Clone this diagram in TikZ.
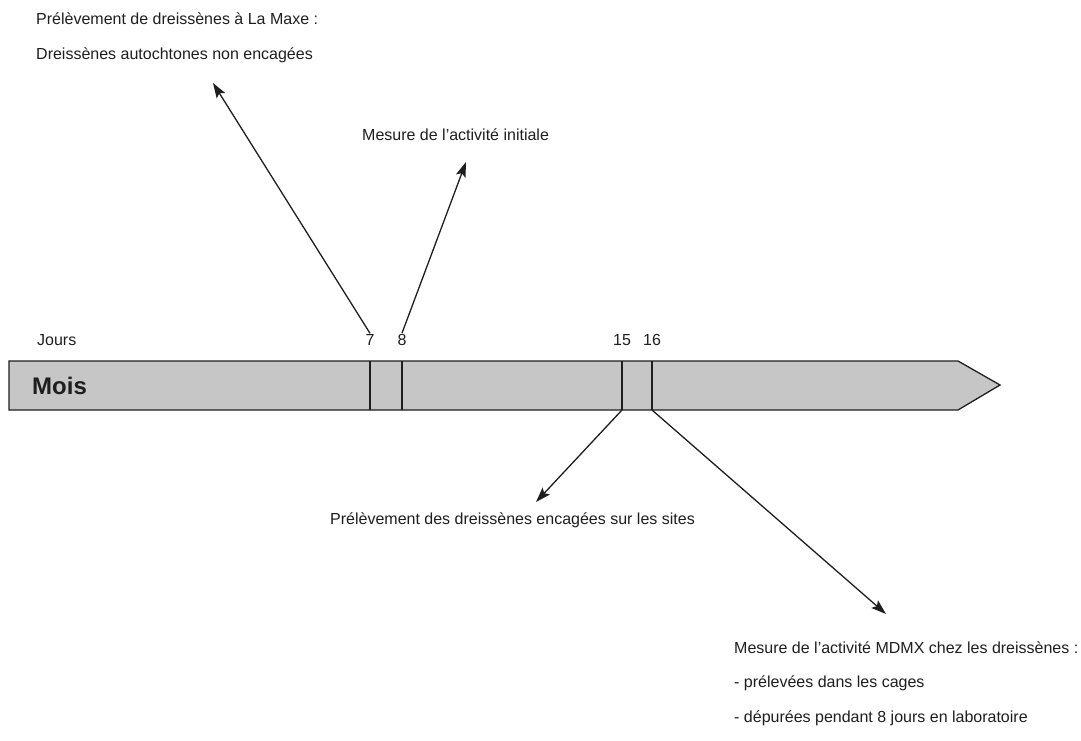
\documentclass[tikz,border=0pt]{standalone}
\usepackage{fontspec}
\setmainfont{Liberation Sans}
\usetikzlibrary{arrows.meta}
\definecolor{barcolor}{HTML}{C6C6C6}
\definecolor{inkcolor}{HTML}{1E1E1E}
\tikzset{
  tl bar/.style={fill=barcolor,draw=inkcolor,line width=1.3pt},
  tl tick/.style={inkcolor,line width=1.2pt},
  tl arrow/.style={inkcolor,line width=1.3pt,-{Stealth[length=15pt,width=10pt,inset=3pt]}},
  tl text/.style={anchor=west,inner sep=0pt,text=inkcolor,font=\fontsize{16}{18}\selectfont},
  tl day/.style={inner sep=1pt,text=inkcolor,font=\fontsize{16}{18}\selectfont}
}

\begin{document}
\begin{tikzpicture}[x=1pt,y=-1pt]
  \useasboundingbox (0,0) rectangle (1081,741);
  % the month bar
  \draw[tl bar] (9,361)--(958,361)--(1000,385)--(958,410)--(9,410)--cycle;
  \node[anchor=west,inner sep=0pt,text=inkcolor,font=\fontsize{24}{26}\selectfont\bfseries] (mois) at (32,386) {Mois};
  \foreach \x/\d in {370/7,402/8,622/15,652/16}{
    \draw[tl tick] (\x,361) coordinate (top\d) -- (\x,410) coordinate (bot\d);
    \node[tl day] (day\d) at (\x,340) {\d};
  }
  \node[tl text] (jours) at (37,340) {Jours};
  % texts
  \node[tl text] (maxeA) at (36,19) {Prélèvement de dreissènes à La Maxe :};
  \node[tl text] (maxeB) at (36,55) {Dreissènes autochtones non encagées};
  \node[tl text] (initiale) at (362,135) {Mesure de l'activité initiale};
  \node[tl text] (sites) at (330,520) {Prélèvement des dreissènes encagées sur les sites};
  \node[tl text] (mdmxA) at (734,648) {Mesure de l'activité MDMX chez les dreissènes :};
  \node[tl text] (mdmxB) at (734,683) {- prélevées dans les cages};
  \node[tl text] (mdmxC) at (734,718) {- dépurées pendant 8 jours en laboratoire};
  % arrows
  \coordinate (tip7) at (213,83);
  \coordinate (tip8) at (466,162);
  \coordinate (tip15) at (536,502);
  \coordinate (tip16) at (886,614);
  \draw[tl arrow] (day7.north) -- (tip7);
  \draw[tl arrow] (day8.north) -- (tip8);
  \draw[tl arrow] (bot15) -- (tip15);
  \draw[tl arrow] (bot16) -- (tip16);
\end{tikzpicture}
\end{document}
